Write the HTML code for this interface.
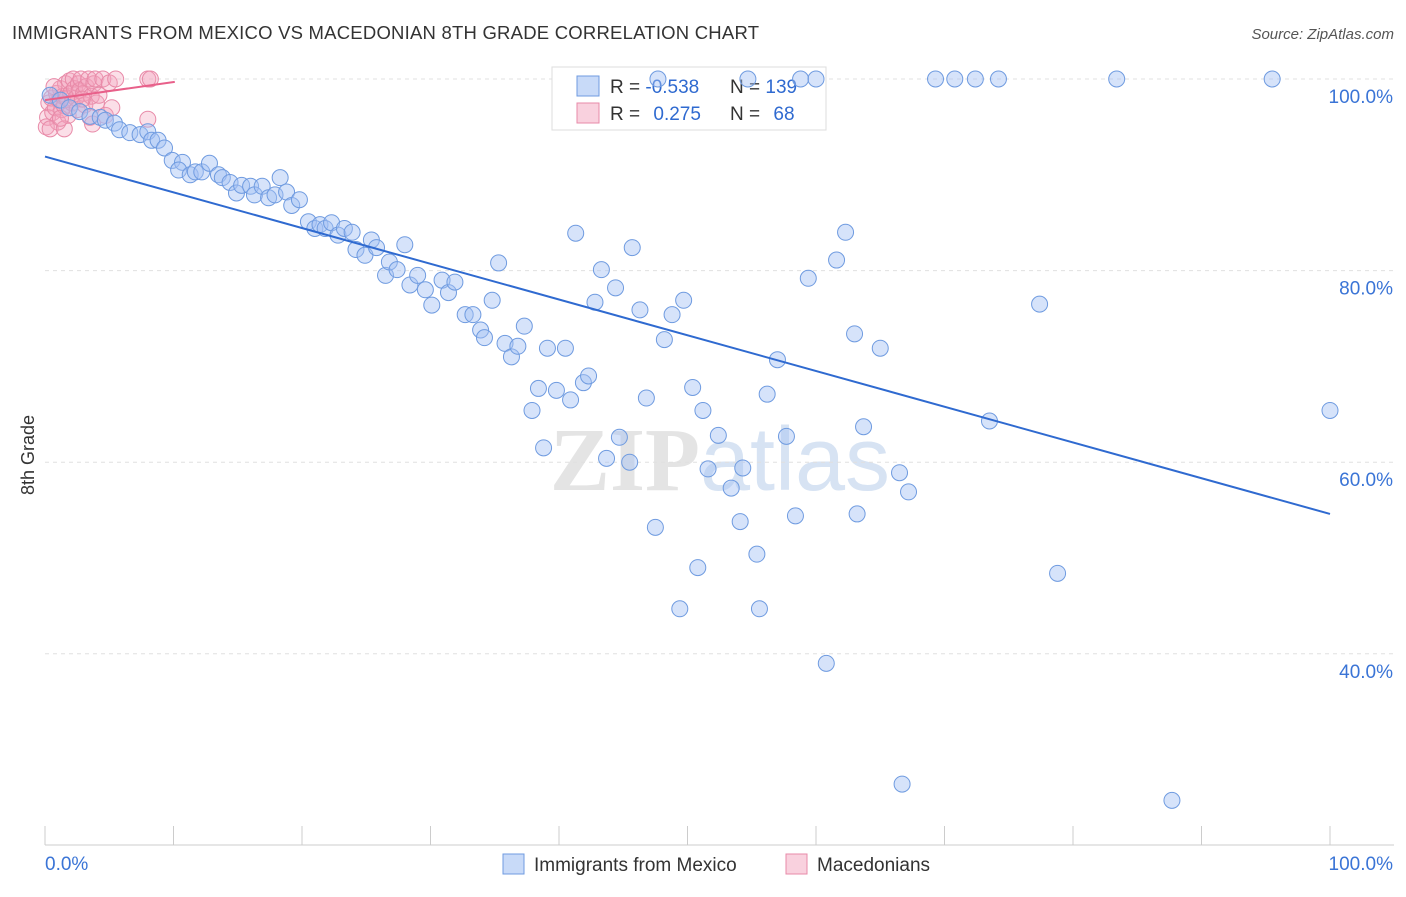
<!DOCTYPE html>
<html><head><meta charset="utf-8"><style>
body{margin:0;background:#fff;font-family:"Liberation Sans",sans-serif;}
</style></head><body>
<svg width="1406" height="892" xmlns="http://www.w3.org/2000/svg">
<text x="12" y="39" font-size="18.5" fill="#333" textLength="747">IMMIGRANTS FROM MEXICO VS MACEDONIAN 8TH GRADE CORRELATION CHART</text>
<text x="1394" y="39" font-size="15" fill="#555" font-style="italic" text-anchor="end">Source: ZipAtlas.com</text>
<text x="720" y="490" font-size="90" fill="#e4e4e4" text-anchor="middle" font-weight="bold" font-family="Liberation Serif,serif">ZIP<tspan fill="#d7e3f3" font-family="Liberation Sans,sans-serif" font-weight="normal">atlas</tspan></text>
<g id="grid"></g><g id="axes"></g>
<g>
<rect x="552" y="67" width="274" height="63" fill="#fff" stroke="#ddd"/>
<rect x="577" y="76" width="22" height="20" fill="rgba(164,194,244,0.6)" stroke="#6f9be0"/>
<rect x="577" y="103" width="22" height="20" fill="rgba(244,164,190,0.5)" stroke="#e88aa8"/>
<text x="610" y="93" font-size="19" fill="#333">R = <tspan fill="#2f6ad0">-0.538</tspan></text>
<text x="730" y="93" font-size="19" fill="#333">N = <tspan fill="#2f6ad0">139</tspan></text>
<text x="610" y="120" font-size="19" fill="#333">R = <tspan fill="#2f6ad0" dx="8">0.275</tspan></text>
<text x="730" y="120" font-size="19" fill="#333">N = <tspan fill="#2f6ad0" dx="8">68</tspan></text>
</g>
<g id="pink"></g><g id="blue"></g><g id="lines"></g>
<text transform="translate(34,455) rotate(-90)" font-size="18" fill="#333" text-anchor="middle">8th Grade</text>
<g>
<rect x="503" y="854" width="21" height="20" fill="rgba(164,194,244,0.6)" stroke="#6f9be0"/>
<text x="534" y="871" font-size="19" fill="#333">Immigrants from Mexico</text>
<rect x="786" y="854" width="21" height="20" fill="rgba(244,164,190,0.5)" stroke="#e88aa8"/>
<text x="817" y="871" font-size="19" fill="#333">Macedonians</text>
</g>
</svg>
<script>
const yTicks=[100,80,60,40];
const yTickLabels=["100.0%","80.0%","60.0%","40.0%"];
const xEndLabels=["0.0%","100.0%"];
const blueX=[47.7,54.7,58.8,60.0,69.3,70.8,72.4,74.2,83.4,95.5,0.4,1.2,1.9,2.7,3.5,4.3,4.7,5.4,5.8,6.6,7.4,8.0,8.3,8.8,9.3,9.9,10.7,10.4,11.3,11.7,12.2,12.8,13.5,13.8,14.4,14.9,15.3,16.0,16.3,16.9,17.4,17.9,18.3,18.8,19.2,19.8,20.5,21.0,21.4,21.8,22.3,22.8,23.3,23.9,24.2,24.9,25.4,25.8,26.5,26.8,27.4,28.0,28.4,29.0,29.6,30.1,30.9,31.4,31.9,32.7,33.3,33.9,34.2,34.8,35.3,35.8,36.3,36.8,37.3,37.9,38.4,38.8,39.1,39.8,40.5,40.9,41.3,41.9,42.3,42.8,43.3,43.7,44.4,44.7,45.5,45.7,46.3,46.8,47.5,48.2,48.8,49.4,49.7,50.4,50.8,51.2,51.6,52.4,53.4,54.1,54.3,55.4,55.6,56.2,57.0,57.7,58.4,59.4,60.8,61.6,62.3,63.0,63.2,63.7,65.0,66.5,66.7,67.2,73.5,77.4,78.8,87.7,100.0];
const blueY=[100,100,100,100,100,100,100,100,100,100,98.3,97.8,97.0,96.6,96.1,96.0,95.7,95.4,94.7,94.4,94.2,94.5,93.6,93.6,92.8,91.5,91.3,90.5,90.0,90.3,90.3,91.2,90.0,89.7,89.2,88.1,88.9,88.8,87.9,88.8,87.6,87.9,89.7,88.2,86.8,87.4,85.1,84.4,84.8,84.4,85.0,83.7,84.4,84.0,82.2,81.6,83.2,82.4,79.5,80.9,80.1,82.7,78.5,79.5,78.0,76.4,79.0,77.7,78.8,75.4,75.4,73.8,73.0,76.9,80.8,72.4,71.0,72.1,74.2,65.4,67.7,61.5,71.9,67.5,71.9,66.5,83.9,68.3,69.0,76.7,80.1,60.4,78.2,62.6,60.0,82.4,75.9,66.7,53.2,72.8,75.4,44.7,76.9,67.8,49.0,65.4,59.3,62.8,57.3,53.8,59.4,50.4,44.7,67.1,70.7,62.7,54.4,79.2,39.0,81.1,84.0,73.4,54.6,63.7,71.9,58.9,26.4,56.9,64.3,76.5,48.4,24.7,65.4];
const pinkX=[0.2,0.3,0.5,0.6,0.8,0.9,1.0,1.1,1.2,1.3,1.4,1.5,1.6,1.7,1.8,1.9,2.0,2.1,2.2,2.3,2.4,2.5,2.6,2.7,2.8,3.0,3.1,3.2,3.4,3.5,3.6,3.8,3.9,4.0,4.2,4.5,4.7,5.0,5.2,5.5,8.0,8.2,8.0,0.1,0.4,1.5,3.7,0.7,1.2,2.9];
const pinkY=[96,97.5,98,96.5,97,98.5,95.5,97.8,99,96.8,98.2,97.2,99.5,98,96.2,99.8,98.5,97.5,100,99,98,96.8,99.5,98.8,100,98.5,97.3,99.2,100,96,98.2,99.5,100,97.5,98.3,100,96.2,99.6,97,100,100,100,95.8,95,94.8,94.8,95.3,99.2,95.9,97.9];
const blueTrend=[[0,91.9],[100,54.6]];
const pinkTrend=[[0,97.8],[10.1,99.7]];
const NS="http://www.w3.org/2000/svg";
const X=v=>45+v*12.85, Y=v=>79+(100-v)*9.58;
function mk(t,a,p){const e=document.createElementNS(NS,t);for(const k in a)e.setAttribute(k,a[k]);document.getElementById(p).appendChild(e);return e;}
yTicks.forEach((t,i)=>{
 const l=mk('line',{x1:45,x2:1394,y1:Y(t),y2:Y(t),stroke:'#e0e0e0','stroke-dasharray':'4,4'},'grid');
 
 
 const tx=mk('text',{x:1393,y:Y(t)+24,'font-size':19,fill:'#3a74d6','text-anchor':'end'},'grid');tx.textContent=yTickLabels[i];
 
 
});
const ax=mk('line',{x1:45,x2:1394,y1:845,y2:845,stroke:'#ccc'},'axes');


for(let i=0;i<=10;i++){const t=mk('line',{x1:X(i*10),x2:X(i*10),y1:826,y2:845,stroke:'#ccc'},'axes');
 
 }
const l0=mk('text',{x:45,y:870,'font-size':19,fill:'#3a74d6'},'axes');l0.textContent=xEndLabels[0];


const l1=mk('text',{x:1393,y:870,'font-size':19,fill:'#3a74d6','text-anchor':'end'},'axes');l1.textContent=xEndLabels[1];


pinkX.forEach((x,i)=>{const c=mk('circle',{cx:X(x),cy:Y(pinkY[i]),r:8,fill:'rgba(244,164,190,0.35)',stroke:'#e88aa8','stroke-width':1},'pink');
 
 });
blueX.forEach((x,i)=>{const c=mk('circle',{cx:X(x),cy:Y(blueY[i]),r:8,fill:'rgba(164,194,244,0.45)',stroke:'#6f9be0','stroke-width':1},'blue');
 
 });
const bt=mk('line',{x1:X(blueTrend[0][0]),y1:Y(blueTrend[0][1]),x2:X(blueTrend[1][0]),y2:Y(blueTrend[1][1]),stroke:'#2f6ad0','stroke-width':2},'lines');


const pt=mk('line',{x1:X(pinkTrend[0][0]),y1:Y(pinkTrend[0][1]),x2:X(pinkTrend[1][0]),y2:Y(pinkTrend[1][1]),stroke:'#e8608a','stroke-width':2},'lines');


</script>
</body></html>
